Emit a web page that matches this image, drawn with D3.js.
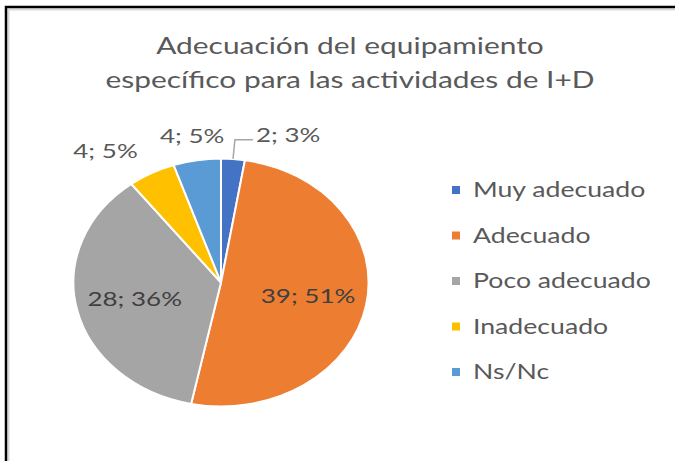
<!DOCTYPE html>
<html>
<head>
<meta charset="utf-8">
<script src="https://cdn.jsdelivr.net/npm/d3@7"></script>
<style>
  body { margin: 0; background: #fff; }
  text { font-family: Lato, "Open Sans", sans-serif; }
</style>
</head>
<body>
<script>
const categories = ["Muy adecuado", "Adecuado", "Poco adecuado", "Inadecuado", "Ns/Nc"];
const values = [2, 39, 28, 4, 4];
const percents = [3, 51, 36, 5, 5];
const colors = ["#4472C4", "#ED7D31", "#A5A5A5", "#FFC000", "#5B9BD5"];
const titleLines = ["Adecuación del equipamiento", "específico para las actividades de I+D"];

const w = 675, h = 461;
const sx = 1.19;          // picture is stretched sideways
const tsx = 1.3;          // text stretch
const cx = 221, cy = 282.5, r = 124;

const svg = d3.select("body").append("svg")
  .attr("width", w).attr("height", h);

// frame (only top + left edges are visible)
svg.append("path").attr("d", `M8.5,${h} V9.5 H${w}`)
  .attr("fill", "none").attr("stroke", "#d9d9d9").attr("stroke-width", 2);
svg.append("path").attr("d", `M6,${h} V7 H${w}`)
  .attr("fill", "none").attr("stroke", "#000").attr("stroke-width", 2.5);

// title
titleLines.forEach((t, i) => {
  svg.append("text")
    .attr("transform", `translate(350,${54 + i * 34}) scale(${tsx},1)`)
    .attr("text-anchor", "middle")
    .attr("font-size", 23)
    .attr("fill", "#595959")
    .text(t);
});

// pie
const pie = d3.pie().sort(null).value(d => d);
const arcs = pie(values);
const arc = d3.arc().innerRadius(0).outerRadius(r);
const g = svg.append("g").attr("transform", `translate(${cx},${cy})`);
g.append("g").attr("transform", `scale(${sx},1)`)
  .selectAll("path").data(arcs).enter().append("path")
  .attr("d", arc)
  .attr("fill", (d, i) => colors[i])
  .attr("stroke", "#fff")
  .attr("stroke-width", 2)
  .attr("vector-effect", "non-scaling-stroke");

const pt = (a, rad) => [Math.sin(a) * rad * sx, -Math.cos(a) * rad];

arcs.forEach((d, i) => {
  const mid = (d.startAngle + d.endAngle) / 2;
  const lbl = values[i] + "; " + percents[i] + "%";
  const share = values[i] / d3.sum(values);
  let x, y, anchor = "middle", fill = "#404040";
  if (share > 0.1) {
    [x, y] = pt(mid, r * 0.6);
  } else if (share > 0.04) {
    [x, y] = pt(mid, r * 1.2);
    const s = Math.sin(mid);
    anchor = Math.abs(s) < 0.3 ? "middle" : (s < 0 ? "end" : "start");
    fill = "#595959";
  } else {
    // tiny slice: label pushed aside with a leader line
    const p0 = pt(mid, r);
    const p1 = pt(mid, r * 1.155);
    const p2 = [p1[0] + 18, p1[1]];
    g.append("path").attr("d", d3.line()([p0, p1, p2]))
      .attr("fill", "none").attr("stroke", "#a6a6a6").attr("stroke-width", 1.5);
    x = p2[0] + 3; y = p1[1] - 5; anchor = "start";
    fill = "#595959";
  }
  g.append("text")
    .attr("transform", `translate(${x},${y}) scale(${tsx},1)`)
    .attr("text-anchor", anchor)
    .attr("dy", "0.35em")
    .attr("font-size", 20)
    .attr("fill", fill)
    .text(lbl);
});

// legend
const ly = d3.scalePoint().domain(categories).range([190, 372]);
const leg = svg.append("g").selectAll("g").data(categories).enter().append("g")
  .attr("transform", d => `translate(452,${ly(d)})`);
leg.append("rect").attr("x", 0).attr("y", -4).attr("width", 8).attr("height", 8)
  .attr("fill", (d, i) => colors[i]);
leg.append("text")
  .attr("transform", `translate(21,0) scale(${tsx},1)`)
  .attr("dy", "0.35em")
  .attr("font-size", 20.5)
  .attr("fill", "#595959")
  .text(d => d);
</script>
</body>
</html>
